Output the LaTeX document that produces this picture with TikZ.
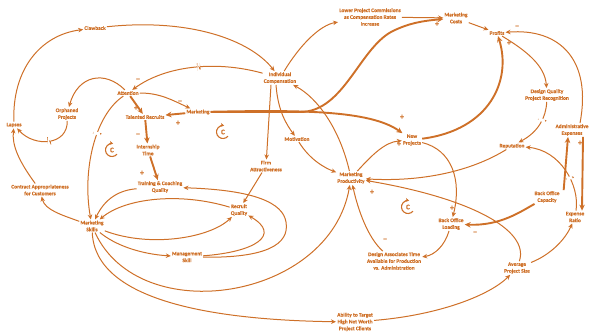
\documentclass[tikz,border=0pt]{standalone}
\usepackage{fontspec}
\setmainfont{Carlito}[FakeBold=0.4]
\usetikzlibrary{arrows.meta}
\definecolor{orng}{RGB}{206,112,40}
\tikzset{
  lbl/.style={text=orng, font=\fontsize{5.4}{6.8}\selectfont\bfseries, align=center, inner sep=1pt},
  arr/.style={draw=orng, line width=1pt, -{Stealth[length=5pt,width=4.5pt]}},
  tarr/.style={draw=orng, line width=1.9pt, -{Stealth[length=6pt,width=5.5pt]}},
  sgn/.style={text=orng, font=\fontsize{8.5}{8.5}\selectfont\bfseries, inner sep=0pt},
  delay/.style={sloped, fill=white, inner sep=0pt, minimum width=3pt, minimum height=8pt,
    path picture={\draw[orng, line width=1.2pt]
      (path picture bounding box.north west) -- (path picture bounding box.south west)
      (path picture bounding box.north east) -- (path picture bounding box.south east);}},
  pics/loopc/.style={code={
    \draw[orng, line width=1.1pt, -{Stealth[length=3.5pt,width=4pt]}] (40:6.5) arc[start angle=40, end angle=280, radius=6.5];
    \node[text=orng, font=\fontsize{7}{7}\selectfont\bfseries] at (0,0) {C};}}
}
\begin{document}
\begin{tikzpicture}[x=1pt,y=-1pt]
\useasboundingbox (0,0) rectangle (592,335);
% nodes
\node[lbl] (claw) at (95,28) {Clawback};
\node[lbl] (indcomp) at (280,78) {Individual\\Compensation};
\node[lbl] (lower) at (370,17) {Lower Project Commissions\\as Compensation Rates\\Increase};
\node[lbl] (mcost) at (456,18) {Marketing\\Costs};
\node[lbl] (profits) at (497,33) {Profits};
\node[lbl] (dqpr) at (547,95) {Design Quality\\Project Recognition};
\node[lbl] (admin) at (572,130) {Administrative\\Expenses};
\node[lbl] (attn) at (128,93) {Attention};
\node[lbl] (orph) at (67,114) {Orphaned\\Projects};
\node[lbl] (talent) at (145,117) {Talented Recruits};
\node[lbl] (mkt) at (198,112) {Marketing};
\node[lbl] (lapses) at (14,125) {Lapses};
\node[lbl] (intern) at (148,150) {Internship\\Time};
\node[lbl] (motiv) at (297,139) {Motivation};
\node[lbl] (firm) at (266,166) {Firm\\Attractiveness};
\node[lbl] (newp) at (412,140) {New\\Projects};
\node[lbl] (rep) at (512,146) {Reputation};
\node[lbl] (mprod) at (351,178) {Marketing\\Productivity};
\node[lbl] (boc) at (547,197) {Back Office\\Capacity};
\node[lbl] (contract) at (40,190) {Contract Appropriateness\\for Customers};
\node[lbl] (train) at (160,187) {Training \& Coaching\\Quality};
\node[lbl] (rq) at (239,210) {Recruit\\Quality};
\node[lbl] (mskills) at (92,226) {Marketing\\Skills};
\node[lbl] (mgmt) at (187,257) {Management\\Skill};
\node[lbl] (bol) at (451,224) {Back Office\\Loading};
\node[lbl] (expr) at (575,217) {Expense\\Ratio};
\node[lbl] (dat) at (394,261) {Design Associates Time\\Available for Production\\vs. Administration};
\node[lbl] (aps) at (517,268) {Average\\Project Size};
\node[lbl] (ability) at (355,322) {Ability to Target\\High Net Worth\\Project Clients};
% connectors
\draw[arr] (lapses) .. controls (12,70) and (40,35) .. (claw);
\draw[arr] (claw) .. controls (190,18) and (250,40) .. (indcomp);
\draw[arr] (indcomp) .. controls (215,60) and (165,66) .. node[delay,pos=0.45]{} (attn);
\draw[arr] (attn) .. controls (105,70) and (78,75) .. (orph);
\draw[arr] (orph) .. controls (68,145) and (35,148) .. node[delay,pos=0.5]{} (lapses);
\draw[arr] (contract) .. controls (18,160) and (12,145) .. (lapses);
\draw[arr] (mskills) .. controls (62,215) and (45,210) .. (contract);
\draw[arr] (attn) .. controls (95,115) and (82,170) .. node[delay,pos=0.4]{} (mskills);
\draw[tarr] (attn) -- (talent);
\draw[arr] (attn) .. controls (160,93) and (172,100) .. (mkt);
\draw[tarr] (mkt) -- (talent);
\draw[tarr] (talent) -- (intern);
\draw[tarr] (intern) -- (train);
\draw[arr] (train) .. controls (120,190) and (105,198) .. (mskills);
\draw[arr] (rq) .. controls (180,192) and (125,198) .. (mskills);
\draw[arr] (mskills) .. controls (150,248) and (210,238) .. (rq);
\draw[arr] (mgmt) .. controls (255,252) and (282,235) .. (rq);
\draw[arr] (mgmt) .. controls (265,258) and (290,245) .. (286,222) .. controls (283,203) and (255,190) .. (train);
\draw[arr] (mskills) .. controls (115,245) and (140,254) .. (mgmt);
\draw[arr] (mskills) .. controls (95,300) and (210,320) .. (ability);
\draw[arr] (mskills) .. controls (140,330) and (330,300) .. (mprod);
\draw[arr] (ability) .. controls (440,315) and (490,295) .. (aps);
\draw[arr] (aps) .. controls (550,255) and (565,240) .. (expr);
\draw[arr] (aps) .. controls (530,230) and (470,198) .. (mprod);
\draw[arr] (rep) .. controls (470,172) and (420,182) .. (mprod);
\draw[tarr] (boc) .. controls (520,212) and (500,226) .. (bol);
\draw[tarr] ([xshift=3pt]boc.north east) -- ([xshift=-4pt]admin.south);
\draw[tarr] ([xshift=11pt]admin.south) -- ([xshift=7pt]expr.north);
\draw[arr] ([xshift=8pt]admin.north) .. controls (592,60) and (560,28) .. (profits);
\draw[arr] (expr) .. controls (580,185) and (560,150) .. node[delay,pos=0.4]{} (rep);
\draw[arr] (dqpr) .. controls (546,118) and (538,132) .. node[delay,pos=0.4]{} (rep);
\draw[arr] (profits) .. controls (525,50) and (545,65) .. (dqpr);
\draw[arr] (mcost) -- (profits);
\draw[arr] (lower) -- (mcost);
\draw[arr] (indcomp) .. controls (300,45) and (320,25) .. (lower);
\draw[tarr] (mkt) -- (300,112) .. controls (345,112) and (360,45) .. (395,30) .. controls (408,24) and (420,21) .. (mcost);
\draw[tarr] (mkt) .. controls (300,110) and (370,110) .. (newp);
\draw[tarr] (newp) .. controls (490,130) and (512,80) .. (profits);
\draw[arr] (newp) .. controls (452,150) and (462,180) .. (bol);
\draw[arr] (mprod) .. controls (372,155) and (385,142) .. (newp);
\draw[arr] (motiv) .. controls (310,160) and (325,168) .. (mprod);
\draw[arr] ([xshift=-4pt]indcomp.south) .. controls (278,112) and (287,125) .. (motiv);
\draw[arr] ([xshift=-9pt]indcomp.south) -- (firm);
\draw[arr] (mprod) .. controls (340,130) and (318,98) .. (indcomp);
\draw[arr] (firm) -- (rq);
\draw[arr] (dat) .. controls (368,238) and (358,210) .. (mprod);
\draw[arr] (bol) .. controls (445,245) and (435,255) .. (dat);
% polarity signs
\node[sgn] (s1) at (138,80) {\textendash};
\node[sgn] (s2) at (136,108) {+};
\node[sgn] (s3) at (180,102) {\textendash};
\node[sgn] (s4) at (178,123) {+};
\node[sgn] (s5) at (138,135) {\textendash};
\node[sgn] (s6) at (142,173) {+};
\node[sgn] (s7) at (402,117) {+};
\node[sgn] (s8) at (399,144) {+};
\node[sgn] (s9) at (437,24) {+};
\node[sgn] (s10) at (517,27) {\textendash};
\node[sgn] (s11) at (509,43) {+};
\node[sgn] (s12) at (580,143) {+};
\node[sgn] (s13) at (452,208) {+};
\node[sgn] (s14) at (475,233) {\textendash};
\node[sgn] (s15) at (385,240) {\textendash};
\node[sgn] (s16) at (372,192) {+};
% loop symbols
\pic (loopA) at (112,150) {loopc};
\pic (loopB) at (223,132) {loopc};
\pic (loopC) at (408,207) {loopc};
\end{tikzpicture}
\end{document}
